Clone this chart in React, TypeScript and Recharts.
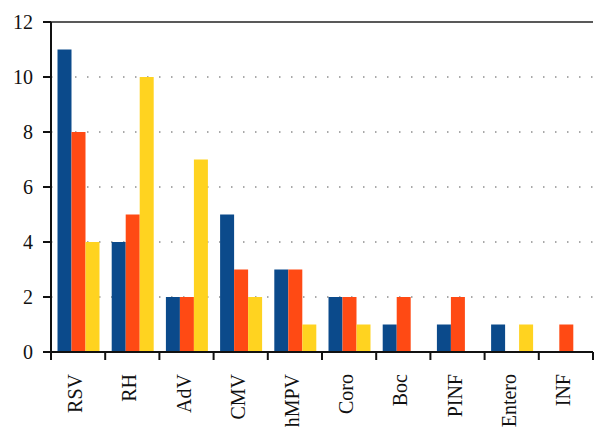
import React from "react";
import { BarChart, Bar, XAxis, YAxis, CartesianGrid, ReferenceLine } from "recharts";

const categories = ["RSV", "RH", "AdV", "CMV", "hMPV", "Coro", "Boc", "PINF", "Entero", "INF"];
const seriesA = [11, 4, 2, 5, 3, 2, 1, 1, 1, 0];
const seriesB = [8, 5, 2, 3, 3, 2, 2, 2, 0, 1];
const seriesC = [4, 10, 7, 2, 1, 1, 0, 0, 1, 0];
const yTicks = [0, 2, 4, 6, 8, 10, 12];
const gridValues = [2, 4, 6, 8, 10];

const data = categories.map((name, i) => ({ name, a: seriesA[i], b: seriesB[i], c: seriesC[i] }));

const FONT = "Liberation Serif, Times New Roman, serif";
const W = 608;
const H = 443;
const M_TOP = 22;
const M_RIGHT = 15;
const Y_W = 51;
const X_H = 91;
const PLOT_BOTTOM = H - X_H;
const BAND = (W - Y_W - M_RIGHT) / categories.length;

const CatTick = (props: any) => {
  const { x, payload, index } = props;
  return (
    <g>
      <line x1={x - BAND / 2} x2={x - BAND / 2} y1={PLOT_BOTTOM} y2={PLOT_BOTTOM + 8} stroke="#111" strokeWidth={2} />
      {index === categories.length - 1 ? (
        <line x1={x + BAND / 2} x2={x + BAND / 2} y1={PLOT_BOTTOM} y2={PLOT_BOTTOM + 8} stroke="#111" strokeWidth={2} />
      ) : null}
      <g transform={`translate(${x + 4},${PLOT_BOTTOM + 22}) rotate(-90)`}>
        <text x={0} y={0} textAnchor="end" fontFamily={FONT} fontSize={20} fill="#111">
          {payload.value}
        </text>
      </g>
    </g>
  );
};

export default function App() {
  return (
    <div style={{ position: "absolute", left: 0, top: 0, width: W, height: H, background: "#fff" }}>
      <BarChart
        width={W}
        height={H}
        data={data}
        margin={{ top: M_TOP, right: M_RIGHT, left: 0, bottom: 0 }}
        barCategoryGap="12%"
        barGap={0}
      >
        <CartesianGrid
          vertical={false}
          stroke="#555"
          strokeDasharray="1.5 10.5"
          horizontalValues={gridValues}
        />
        <XAxis
          dataKey="name"
          height={X_H}
          tickLine={false}
          axisLine={{ stroke: "#111", strokeWidth: 2 }}
          tick={<CatTick />}
          interval={0}
        />
        <YAxis
          domain={[0, 12]}
          ticks={yTicks}
          width={Y_W}
          tickSize={8}
          tickMargin={10}
          tickLine={{ stroke: "#111", strokeWidth: 2 }}
          axisLine={{ stroke: "#111", strokeWidth: 2 }}
          tick={{ fontFamily: FONT, fontSize: 20, fill: "#111" }}
          interval={0}
        />
        <YAxis yAxisId="r" orientation="right" domain={[0, 12]} width={0} tick={false} tickLine={false} axisLine={{ stroke: "#333", strokeWidth: 1.5 }} />
        <ReferenceLine y={12} stroke="#222" strokeWidth={1.5} />
        <Bar dataKey="a" fill="#0B4A8B" isAnimationActive={false} />
        <Bar dataKey="b" fill="#FF4A14" isAnimationActive={false} />
        <Bar dataKey="c" fill="#FFD320" isAnimationActive={false} />
      </BarChart>
    </div>
  );
}
